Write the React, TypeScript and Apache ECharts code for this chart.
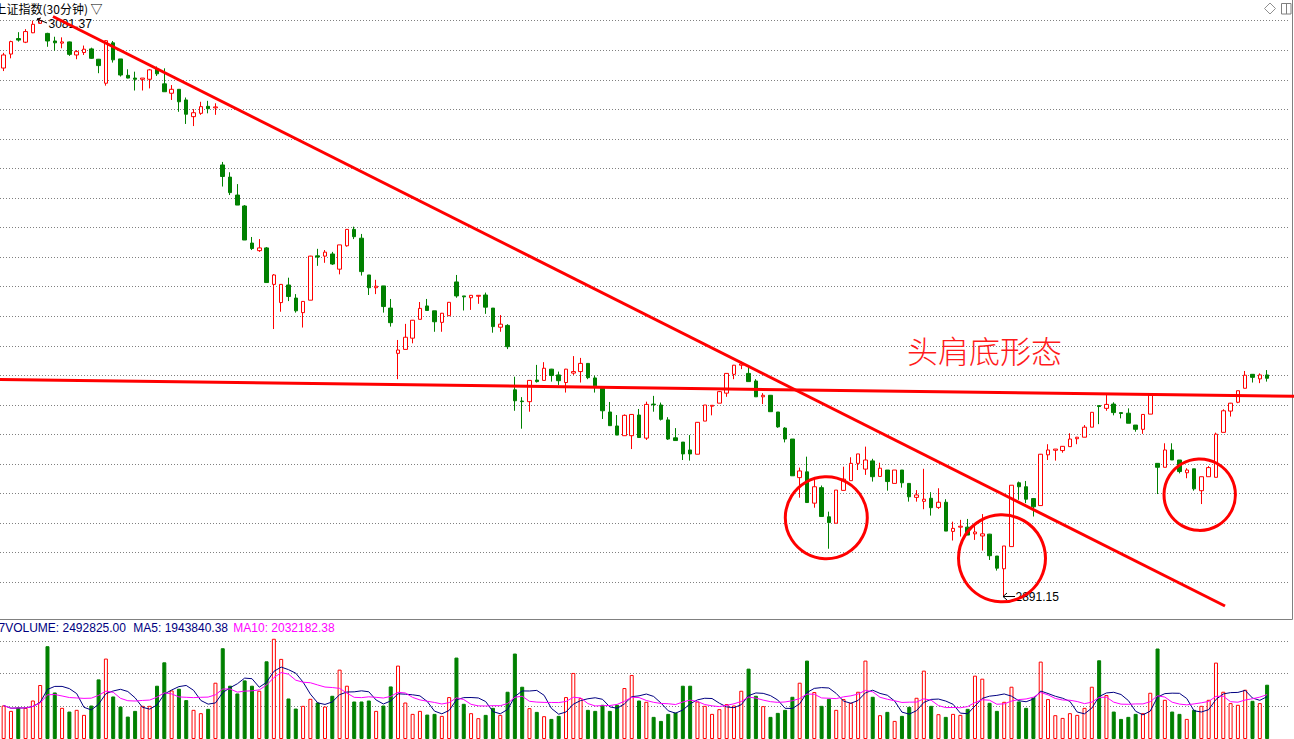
import React, { useEffect, useRef } from "react";
import * as echarts from "echarts";

// [open, close, low, high] per 30-minute bar
const ohlc: number[][] = [
  [3064.9, 3069.2, 3063.9, 3069.9], [3069.5, 3073.6, 3068.1, 3073.9], [3074.6, 3074.1, 3073.6, 3076.7], [3073.4, 3076.9, 3073.1, 3077.7],
  [3076.5, 3079.3, 3076.4, 3080.5], [3079.6, 3080.5, 3079.4, 3081.37], [3076.3, 3073.8, 3071.9, 3076.5], [3073.8, 3073.2, 3070.6, 3075.2],
  [3073.1, 3073.5, 3071.4, 3075.0], [3073.5, 3069.4, 3068.9, 3073.6], [3069.2, 3070.3, 3067.8, 3070.8], [3070.0, 3071.1, 3069.2, 3072.3],
  [3071.2, 3068.1, 3067.9, 3071.6], [3067.8, 3065.7, 3063.2, 3067.9], [3059.9, 3073.9, 3059.1, 3074.1], [3073.2, 3067.6, 3066.7, 3073.8],
  [3067.9, 3062.6, 3062.1, 3067.9], [3062.5, 3061.6, 3061.5, 3064.5], [3061.6, 3061.2, 3057.5, 3063.7], [3061.2, 3061.6, 3057.5, 3061.6],
  [3061.2, 3064.3, 3058.2, 3064.6], [3064.6, 3063.0, 3062.3, 3065.4], [3059.7, 3057.1, 3057.1, 3064.8], [3056.6, 3057.9, 3054.4, 3059.3],
  [3057.9, 3053.8, 3050.5, 3058.0], [3054.4, 3049.7, 3046.5, 3055.2], [3048.9, 3050.2, 3045.8, 3051.4], [3050.0, 3052.2, 3049.5, 3053.8],
  [3052.3, 3051.5, 3050.0, 3054.1], [3051.8, 3052.1, 3049.5, 3053.3], [3033.0, 3029.2, 3025.9, 3034.0], [3029.0, 3023.9, 3023.1, 3030.6],
  [3023.1, 3019.8, 3019.8, 3026.7], [3019.5, 3008.3, 3008.3, 3019.8], [3007.3, 3005.5, 3005.0, 3009.3], [3004.8, 3005.7, 3004.4, 3008.6],
  [3005.7, 2994.3, 2994.3, 3006.0], [2993.7, 2996.8, 2979.0, 2997.1], [2987.7, 2993.7, 2984.7, 2993.8], [2993.5, 2989.7, 2988.2, 2995.9],
  [2989.2, 2985.0, 2984.4, 2990.5], [2984.4, 2988.1, 2979.5, 2988.2], [2988.5, 3003.0, 2988.5, 3003.1], [3003.1, 3002.7, 2999.8, 3005.4],
  [3003.0, 3004.3, 3000.8, 3005.0], [3003.7, 3000.4, 3000.1, 3004.4], [2998.7, 3006.7, 2997.0, 3006.7], [3006.4, 3011.8, 3006.1, 3011.9],
  [3011.8, 3009.4, 3008.6, 3012.7], [3008.9, 2997.9, 2996.6, 3010.3], [2996.8, 2992.6, 2990.2, 2996.8], [2992.6, 2993.1, 2990.5, 2995.2],
  [2993.2, 2986.4, 2984.4, 2993.2], [2985.9, 2981.1, 2979.8, 2988.9], [2971.0, 2972.1, 2962.5, 2975.4], [2972.3, 2976.3, 2972.3, 2980.7],
  [2976.0, 2981.9, 2974.3, 2982.0], [2982.2, 2985.8, 2982.2, 2987.9], [2986.6, 2985.1, 2985.1, 2988.9], [2985.0, 2981.4, 2978.1, 2985.0],
  [2981.2, 2984.2, 2978.1, 2984.3], [2983.4, 2987.8, 2983.4, 2987.9], [2994.5, 2989.9, 2989.3, 2996.8], [2989.9, 2989.6, 2985.1, 2989.9],
  [2989.3, 2990.1, 2985.3, 2990.2], [2989.8, 2990.1, 2987.3, 2990.2], [2990.2, 2986.2, 2984.0, 2991.0], [2985.9, 2979.8, 2977.8, 2985.9],
  [2979.6, 2980.6, 2978.1, 2983.6], [2980.2, 2973.2, 2972.4, 2980.6], [2959.0, 2955.4, 2952.1, 2963.3], [2955.3, 2955.1, 2946.2, 2956.6],
  [2955.1, 2962.1, 2951.8, 2962.2], [2962.2, 2961.7, 2961.4, 2967.2], [2962.1, 2966.1, 2962.1, 2968.1], [2965.8, 2963.7, 2961.7, 2965.9],
  [2963.9, 2962.0, 2960.6, 2965.0], [2961.4, 2965.8, 2958.1, 2965.9], [2964.5, 2965.0, 2963.9, 2970.1], [2965.0, 2967.7, 2961.4, 2969.5],
  [2967.7, 2963.0, 2962.5, 2967.8], [2962.9, 2960.3, 2958.1, 2963.7], [2959.5, 2952.1, 2949.4, 2959.6], [2951.7, 2947.2, 2947.2, 2955.0],
  [2947.1, 2944.1, 2944.1, 2950.7], [2943.9, 2950.6, 2943.9, 2950.9], [2943.9, 2950.9, 2939.5, 2951.0], [2950.7, 2943.3, 2943.3, 2952.7],
  [2943.1, 2954.2, 2942.5, 2955.1], [2954.3, 2954.1, 2951.8, 2957.0], [2954.0, 2949.3, 2948.9, 2954.8], [2949.1, 2942.8, 2942.5, 2950.0],
  [2943.2, 2942.3, 2942.3, 2946.4], [2941.8, 2937.9, 2935.9, 2941.8], [2939.2, 2937.9, 2935.7, 2944.1], [2937.8, 2948.3, 2937.8, 2948.4],
  [2948.7, 2954.0, 2948.7, 2954.0], [2953.6, 2953.9, 2950.6, 2954.0], [2954.6, 2958.4, 2954.6, 2958.6], [2957.9, 2964.4, 2956.7, 2964.5],
  [2964.1, 2967.1, 2962.5, 2967.2], [2967.1, 2967.5, 2965.8, 2968.3], [2964.4, 2961.7, 2961.7, 2966.9], [2961.9, 2956.7, 2956.7, 2962.5],
  [2956.7, 2957.2, 2954.3, 2957.9], [2957.2, 2951.8, 2951.8, 2957.3], [2951.7, 2946.8, 2946.5, 2951.7], [2946.4, 2942.8, 2941.7, 2946.7],
  [2942.8, 2930.7, 2930.7, 2942.8], [2930.1, 2932.3, 2923.5, 2933.4], [2932.0, 2921.9, 2921.9, 2937.0], [2921.7, 2927.1, 2920.2, 2929.3],
  [2926.8, 2917.3, 2917.3, 2927.5], [2917.2, 2915.3, 2906.7, 2918.9], [2915.1, 2926.0, 2915.1, 2926.0], [2925.9, 2929.6, 2925.9, 2933.7],
  [2929.1, 2934.8, 2929.1, 2936.8], [2934.8, 2937.9, 2932.6, 2937.9], [2932.9, 2935.9, 2931.0, 2940.3], [2935.6, 2930.4, 2928.8, 2936.3],
  [2930.5, 2933.2, 2930.5, 2935.0], [2932.6, 2928.8, 2925.8, 2932.6], [2928.2, 2932.6, 2928.2, 2932.6], [2932.6, 2928.4, 2926.8, 2932.6],
  [2928.2, 2923.8, 2922.2, 2928.3], [2923.6, 2924.4, 2922.2, 2926.0], [2922.3, 2923.0, 2919.7, 2933.0], [2923.3, 2920.2, 2917.6, 2925.3],
  [2920.3, 2922.0, 2919.8, 2926.6], [2922.0, 2912.5, 2912.5, 2923.0], [2912.4, 2913.4, 2909.4, 2915.6], [2913.8, 2914.1, 2910.7, 2916.2],
  [2913.8, 2911.2, 2911.2, 2916.5], [2911.6, 2912.2, 2909.6, 2914.5], [2910.9, 2911.6, 2906.1, 2918.1], [2911.5, 2904.4, 2903.0, 2911.6],
  [2904.3, 2900.3, 2899.5, 2904.3], [2900.1, 2907.6, 2891.15, 2907.6], [2907.4, 2927.6, 2907.4, 2927.6], [2928.4, 2927.1, 2922.8, 2928.8],
  [2927.1, 2923.0, 2921.7, 2929.0], [2923.2, 2920.5, 2917.3, 2923.4], [2920.9, 2937.8, 2920.9, 2937.9], [2937.6, 2939.2, 2935.9, 2941.1],
  [2939.1, 2939.5, 2935.7, 2939.5], [2939.0, 2940.4, 2938.3, 2940.5], [2940.3, 2942.8, 2940.3, 2944.7], [2942.9, 2943.4, 2941.1, 2943.5],
  [2943.4, 2946.7, 2943.4, 2947.4], [2946.7, 2951.6, 2946.7, 2951.6], [2953.8, 2953.5, 2947.7, 2953.8], [2952.9, 2954.2, 2952.1, 2957.3],
  [2954.3, 2951.5, 2950.6, 2954.9], [2951.5, 2951.2, 2949.6, 2951.5], [2951.3, 2948.0, 2948.0, 2952.9], [2947.4, 2946.0, 2945.2, 2947.4],
  [2946.0, 2950.9, 2944.5, 2951.0], [2951.0, 2957.3, 2951.0, 2957.3], [2934.8, 2933.5, 2924.7, 2934.8], [2933.5, 2939.2, 2933.5, 2941.4],
  [2939.2, 2935.9, 2935.9, 2941.4], [2935.9, 2932.1, 2931.5, 2935.9], [2931.7, 2932.6, 2929.9, 2933.2], [2933.0, 2926.4, 2925.8, 2933.0],
  [2925.8, 2930.4, 2921.4, 2930.4], [2930.4, 2933.4, 2930.4, 2933.9], [2930.2, 2944.4, 2930.2, 2944.9], [2945.0, 2952.1, 2945.0, 2952.6],
  [2952.0, 2954.6, 2950.2, 2954.7], [2954.9, 2958.7, 2954.6, 2958.7], [2959.5, 2963.8, 2959.5, 2965.2], [2964.1, 2963.1, 2961.4, 2964.2],
  [2962.6, 2963.9, 2961.2, 2964.4], [2963.9, 2962.8, 2961.7, 2965.5],
];

// volume per bar, in thousands
const volumeK: number[] = [
  1537, 1292, 1445, 1431, 1768, 2479, 4261, 2137, 1431, 1260,
  1339, 1108, 1537, 2737, 3693, 1953, 1491, 1029, 1292, 1523,
  1523, 2447, 3522, 2230, 2308, 1786, 1339, 1186, 1385, 2585,
  4168, 2447, 2091, 2691, 2447, 2216, 3568, 4602, 3679, 1860,
  1399, 1523, 1846, 1676, 1491, 1985, 3185, 2447, 1722, 1722,
  1768, 1292, 1537, 2414, 3370, 1676, 1154, 1292, 1122, 1154,
  1062, 1925, 3739, 1616, 1186, 956, 1108, 1431, 1108, 2170,
  3924, 2400, 1417, 1246, 1048, 923, 1062, 1925, 3033, 1879,
  1339, 1292, 1570, 1292, 1570, 2340, 2941, 1768, 1708, 1016,
  831, 1154, 1214, 2447, 2447, 1722, 1523, 1154, 1371, 1602,
  1537, 2216, 3231, 1985, 1510, 1016, 1200, 1339, 1939, 2585,
  3601, 2156, 1523, 1846, 1339, 1833, 1662, 2170, 3601, 1939,
  1094, 1246, 831, 1062, 1477, 1893, 3139, 1523, 1140, 1016,
  1154, 1108, 1385, 2908, 2770, 1662, 1292, 1708, 2400, 1722,
  1431, 1906, 3554, 1833, 1094, 969, 1186, 1108, 1431, 2400,
  3615, 2017, 1260, 923, 1016, 1154, 1186, 2123, 4155, 1800,
  1260, 1154, 923, 1339, 1523, 1800, 3508, 2170, 1648, 1570,
  2262, 1754, 1648, 2493,
];

const categories: string[] = ohlc.map((_, i) => String(i + 1));

const titleText = "上证指数(30分钟) ▽";
const highLabel = "3081.37";
const lowLabel = "2891.15";
const patternLabel = "头肩底形态";
const volumeTexts = ["7VOLUME: 2492825.00", "MA5: 1943840.38", "MA10: 2032182.38"];

const PRICE_MIN = 2895.65;
const PRICE_MAX = 3080.48;
const GRID_STEPS = 19;
const VOL_MAX = 4500;
const VOL_STEP = 1500;

const RED = "#ff0000";
const GREEN = "#008000";

function movingAverage(values: number[], n: number): number[] {
  return values.map((_, i) => {
    const w = values.slice(Math.max(0, i - n + 1), i + 1);
    return w.reduce((a, b) => a + b, 0) / w.length;
  });
}

export default function App() {
  const ref = useRef<HTMLDivElement>(null);
  useEffect(() => {
    const chart = echarts.init(ref.current!, null, { renderer: "svg" });
    const ma5 = movingAverage(volumeK, 5);
    const ma10 = movingAverage(volumeK, 10);
    const dotted = { color: "#808080", width: 1, type: [1, 2] };
    const band = 7.33;
    const gridLeft = -1 - band / 2;
    const gridWidth = band * ohlc.length;
    const font12 = '12px "Liberation Sans", Arial, sans-serif';
    const volData = volumeK.map((v, i) => {
      const up = ohlc[i][1] > ohlc[i][0];
      return {
        value: v,
        itemStyle: up
          ? { color: "#ffffff", borderColor: RED, borderWidth: 1 }
          : { color: GREEN, borderColor: GREEN, borderWidth: 1 },
      };
    });
    const hiddenAxis = {
      axisLine: { show: false },
      axisTick: { show: false },
      axisLabel: { show: false },
    };
    chart.setOption({
      animation: false,
      backgroundColor: "#ffffff",
      grid: [
        { left: gridLeft, width: gridWidth, top: 20.7, height: 561.6 },
        { left: gridLeft, width: gridWidth, top: 641, height: 98 },
        { left: 0, width: 1289, top: 20.7, height: 561.6 },
        { left: 0, width: 1289, top: 641, height: 98 },
      ],
      xAxis: [
        { type: "category", gridIndex: 0, data: categories, boundaryGap: true, show: false },
        { type: "category", gridIndex: 1, data: categories, boundaryGap: true, show: false },
        { type: "value", gridIndex: 2, min: 0, max: 1, show: false },
        { type: "value", gridIndex: 3, min: 0, max: 1, show: false },
      ],
      yAxis: [
        { type: "value", gridIndex: 0, min: PRICE_MIN, max: PRICE_MAX, show: false, splitLine: { show: false } },
        {
          type: "value", gridIndex: 2, min: 0, max: GRID_STEPS, interval: 1,
          ...hiddenAxis, splitLine: { show: true, lineStyle: dotted },
        },
        { type: "value", gridIndex: 1, min: 0, max: VOL_MAX, show: false, splitLine: { show: false } },
        {
          type: "value", gridIndex: 3, min: 0, max: VOL_MAX, interval: VOL_STEP,
          ...hiddenAxis, splitLine: { show: true, showMinLine: false, lineStyle: dotted },
        },
      ],
      series: [
        {
          type: "candlestick",
          xAxisIndex: 0,
          yAxisIndex: 0,
          data: ohlc,
          barWidth: 4,
          clip: false,
          itemStyle: {
            color: "#ffffff",
            color0: GREEN,
            borderColor: RED,
            borderColor0: GREEN,
            borderWidth: 1,
          },
          z: 3,
        },
        {
          type: "bar",
          xAxisIndex: 1,
          yAxisIndex: 2,
          data: volData,
          barWidth: 4,
          clip: false,
          z: 3,
        },
        {
          type: "line",
          xAxisIndex: 1,
          yAxisIndex: 2,
          data: ma5,
          symbol: "none",
          clip: false,
          lineStyle: { color: "#000080", width: 1 },
          z: 4,
        },
        {
          type: "line",
          xAxisIndex: 1,
          yAxisIndex: 2,
          data: ma10,
          symbol: "none",
          clip: false,
          lineStyle: { color: "#ff00ff", width: 1 },
          z: 4,
        },
      ],
      graphic: [
        { type: "text", x: -5.5, y: 8.5, z: 100, style: { text: titleText, font: '12px "Noto Sans CJK SC", sans-serif', fill: "#000000", verticalAlign: "middle" } },
        { type: "polygon", z: 100, shape: { points: [[1270, 3], [1275.5, 8.5], [1270, 14], [1264.5, 8.5]] }, style: { fill: "none", stroke: "#909090", lineWidth: 1 } },
        { type: "rect", z: 100, shape: { x: 1281.5, y: 3.5, width: 9.5, height: 10.5 }, style: { fill: "none", stroke: "#808080", lineWidth: 1 } },
        { type: "line", z: 100, shape: { x1: 1286.5, y1: 3.5, x2: 1286.5, y2: 14 }, style: { stroke: "#808080", lineWidth: 1 } },
        { type: "line", z: 100, shape: { x1: 1292.5, y1: 0, x2: 1292.5, y2: 619.5 }, style: { stroke: "#808080", lineWidth: 1 } },
        { type: "line", z: 100, shape: { x1: 0, y1: 619.5, x2: 1292.5, y2: 619.5 }, style: { stroke: "#808080", lineWidth: 1 } },
        // high label
        { type: "line", z: 100, shape: { x1: 37, y1: 19, x2: 47, y2: 23 }, style: { stroke: "#000000", lineWidth: 1 } },
        { type: "polyline", z: 100, shape: { points: [[41, 18], [37, 19], [39.5, 22.5]] }, style: { stroke: "#000000", lineWidth: 1, fill: "none" } },
        { type: "text", x: 48.5, y: 23.8, z: 100, style: { text: highLabel, font: font12, fill: "#000000", verticalAlign: "middle" } },
        // low label
        { type: "line", z: 100, shape: { x1: 1003, y1: 596.5, x2: 1015, y2: 596.5 }, style: { stroke: "#000000", lineWidth: 1 } },
        { type: "polyline", z: 100, shape: { points: [[1007, 593], [1003, 596.5], [1007, 600]] }, style: { stroke: "#000000", lineWidth: 1, fill: "none" } },
        { type: "text", x: 1015.5, y: 597, z: 100, style: { text: lowLabel, font: font12, fill: "#000000", verticalAlign: "middle" } },
        // annotations
        { type: "line", z: 110, shape: { x1: 53, y1: 16.5, x2: 1225, y2: 606 }, style: { stroke: RED, lineWidth: 3 } },
        { type: "line", z: 110, shape: { x1: 0, y1: 379.5, x2: 1294, y2: 396.3 }, style: { stroke: RED, lineWidth: 3 } },
        { type: "circle", z: 110, shape: { cx: 826.3, cy: 517.7, r: 41 }, style: { fill: "none", stroke: RED, lineWidth: 3 } },
        { type: "circle", z: 110, shape: { cx: 1002, cy: 558.3, r: 43.5 }, style: { fill: "none", stroke: RED, lineWidth: 3 } },
        { type: "circle", z: 110, shape: { cx: 1199.7, cy: 494.7, r: 35.7 }, style: { fill: "none", stroke: RED, lineWidth: 3 } },
        { type: "text", x: 907, y: 349, z: 110, style: { text: patternLabel, font: '300 31px "Noto Sans CJK SC", sans-serif', fill: "#ff1a1a", verticalAlign: "middle" } },
        // volume header
        { type: "text", x: -1.5, y: 627.8, z: 100, style: { text: volumeTexts[0], font: font12, fill: "#000080", verticalAlign: "middle" } },
        { type: "text", x: 133.3, y: 627.8, z: 100, style: { text: volumeTexts[1], font: font12, fill: "#000080", verticalAlign: "middle" } },
        { type: "text", x: 233.3, y: 627.8, z: 100, style: { text: volumeTexts[2], font: font12, fill: "#ff00ff", verticalAlign: "middle" } },
      ],
    });
    return () => chart.dispose();
  }, []);
  return (
    <div
      ref={ref}
      style={{ position: "absolute", left: 0, top: 0, width: 1294, height: 739, background: "#ffffff" }}
    />
  );
}
